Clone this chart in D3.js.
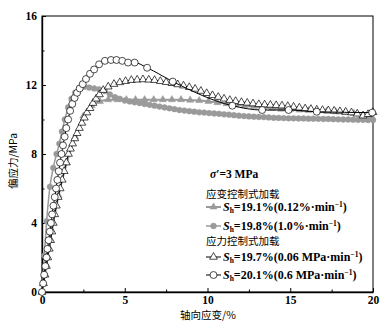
<!DOCTYPE html>
<html><head><meta charset="utf-8">
<script src="https://cdn.jsdelivr.net/npm/d3@7/dist/d3.min.js"></script>
<style>body{margin:0;background:#fff}</style>
</head><body><svg id="c" width="388" height="328"></svg>
<script>
// ---------- data ----------
const xTicks = [0, 5, 10, 15, 20];
const xMinor = [2.5, 7.5, 12.5, 17.5];
const yTicks = [0, 4, 8, 12, 16];
const yMinor = [2, 6, 10, 14];

// strain-controlled 0.12%/min (grey filled triangles)
const strainSlowX = [0,0.5,1.0,1.5,2.0,2.5,3.0,3.5,4.0,4.55,5.1,5.65,6.2,6.75,7.3,7.85,8.4,8.95,9.5,10.05,10.6,11.15,11.7,12.25,12.8,13.35,13.9,14.45,15.0,15.55,16.1,16.65,17.2,17.75,18.3,18.85,19.4,19.95];
const strainSlowY = [0,3.0,5.6,7.5,9.0,10.2,10.8,11.05,11.15,11.15,11.15,11.15,11.15,11.15,11.15,11.15,11.15,11.12,11.1,11.05,10.98,10.92,10.85,10.8,10.75,10.7,10.65,10.6,10.58,10.55,10.52,10.5,10.48,10.45,10.4,10.35,10.25,10.1];

// strain-controlled 1.0%/min (grey filled circles)
const strainFastX = [0,0.14,0.28,0.48,0.68,0.88,1.05,1.2,1.38,1.58,1.78,2.0,2.25,2.55,2.85,3.15,3.45,3.8,4.1,4.4,4.7,5.0,5.3,5.6,5.9,6.2,6.5,6.8,7.1,7.4,7.7,8.0,8.3,8.6,8.9,9.2,9.5,9.8,10.1,10.4,10.7,11.0,11.3,11.6,11.9,12.2,12.5,12.8,13.1,13.4,13.7,14.0,14.3,14.6,14.9,15.2,15.5,15.8,16.1,16.4,16.7,17.0,17.3,17.6,17.9,18.2,18.5,18.8,19.1,19.4,19.7,20.0];
const strainFastY = [0,2.1,4.1,6.1,7.2,8.0,8.6,9.3,10.0,10.7,11.2,11.55,11.8,11.9,11.85,11.8,11.75,11.65,11.45,11.3,11.2,11.1,11.05,11.0,10.95,10.9,10.85,10.8,10.75,10.7,10.65,10.6,10.55,10.52,10.48,10.45,10.42,10.4,10.37,10.35,10.33,10.3,10.28,10.25,10.22,10.2,10.18,10.16,10.15,10.14,10.12,10.1,10.09,10.08,10.07,10.07,10.06,10.06,10.05,10.05,10.04,10.03,10.03,10.02,10.01,10.0,10.0,9.99,9.98,9.98,9.97,9.97];

// stress-controlled 0.06 MPa/min (open triangles)
const stressSlowX = [0,0.09,0.18,0.27,0.35,0.44,0.52,0.6,0.68,0.77,0.87,0.98,1.1,1.22,1.34,1.47,1.6,1.72,1.85,1.98,2.12,2.26,2.41,2.56,2.72,2.9,3.08,3.27,3.47,3.7,4.0,4.35,4.7,5.05,5.4,5.75,6.1,6.45,6.8,7.15,7.5,7.85,8.2,8.55,8.9,9.25,9.6,9.95,10.3,10.65,11.0,11.35,11.7,12.05,12.4,12.75,13.1,13.45,13.8,14.15,14.5,14.85,15.2,15.55,15.9,16.25,16.6,16.95,17.3,17.65,18.0,18.35,18.7,19.05,19.4,19.7,20.0];
const stressSlowY = [0,0.5,1.0,1.5,2.0,2.5,3.0,3.5,4.0,4.5,5.0,5.5,6.0,6.5,7.0,7.5,8.0,8.3,8.6,8.9,9.2,9.5,9.8,10.1,10.4,10.65,10.95,11.2,11.45,11.7,11.9,12.05,12.15,12.22,12.28,12.3,12.32,12.3,12.28,12.22,12.16,12.1,12.03,11.96,11.87,11.77,11.65,11.52,11.4,11.3,11.2,11.12,11.06,11.0,10.96,10.92,10.88,10.86,10.84,10.82,10.8,10.77,10.73,10.68,10.63,10.6,10.56,10.54,10.52,10.5,10.47,10.44,10.4,10.33,10.22,10.3,10.42];

// stress-controlled 0.6 MPa/min (open circles)
const stressFastX = [0,0.07,0.13,0.2,0.27,0.33,0.4,0.47,0.54,0.61,0.69,0.77,0.85,0.93,1.01,1.09,1.18,1.27,1.37,1.47,1.58,1.7,1.83,1.97,2.12,2.28,2.46,2.66,2.9,3.15,3.45,3.8,4.17,4.5,4.85,5.2,5.6,6.35,7.9,11.5,13.3,14.9,16.6,19.95];
const stressFastY = [0,0.5,1.0,1.5,2.0,2.5,3.0,3.5,4.0,4.5,5.0,5.5,6.0,6.5,7.0,7.5,8.0,8.5,9.0,9.5,10.0,10.5,10.9,11.25,11.55,11.8,12.05,12.35,12.65,12.9,13.2,13.4,13.45,13.45,13.4,13.3,13.3,13.0,12.2,10.8,10.55,10.55,10.45,10.4];

const legendSh = ["19.1%", "19.8%", "19.7%", "20.1%"];
const legendRate = ["0.12%", "1.0%", "0.06 MPa", "0.6 MPa"];
const legendHeads = ["应变控制式加载", "应力控制式加载"];

// ---------- chart ----------
const svg = d3.select("#c");
const x = d3.scaleLinear().domain([0, 20]).range([42, 373]);
const y = d3.scaleLinear().domain([0, 16]).range([292, 16]);
const NUM = "'Liberation Serif','Times New Roman',serif";
const CJK = "'Noto Sans CJK SC','Noto Sans CJK JP',sans-serif";
const GREY = "#9a9a9a";

svg.append("rect").attr("width", 388).attr("height", 328).attr("fill", "#fff");

// frame
svg.append("rect").attr("x", x(0)).attr("y", y(16)).attr("width", x(20) - x(0)).attr("height", y(0) - y(16))
  .attr("fill", "none").attr("stroke", "#000").attr("stroke-width", 1);

function styleAxis(g) {
  g.selectAll("path.domain").attr("stroke", "#000").attr("stroke-width", 1.4);
  g.selectAll("line").attr("stroke", "#000").attr("stroke-width", 1);
  g.selectAll("text").attr("font-family", NUM).attr("font-weight", "bold").attr("font-size", 11.5).attr("fill", "#000");
}
const gx = svg.append("g").attr("transform", `translate(0,${y(0)})`)
  .call(d3.axisBottom(x).tickValues(xTicks).tickSize(-4).tickSizeOuter(0).tickPadding(4).tickFormat(d3.format("d")));
styleAxis(gx);
const gxm = svg.append("g").attr("transform", `translate(0,${y(0)})`)
  .call(d3.axisBottom(x).tickValues(xMinor).tickSize(-2.5).tickSizeOuter(0).tickFormat(""));
gxm.select("path.domain").remove(); styleAxis(gxm);
const gy = svg.append("g").attr("transform", `translate(${x(0)},0)`)
  .call(d3.axisLeft(y).tickValues(yTicks).tickSize(-4).tickSizeOuter(0).tickPadding(5).tickFormat(d3.format("d")));
styleAxis(gy);
const gym = svg.append("g").attr("transform", `translate(${x(0)},0)`)
  .call(d3.axisLeft(y).tickValues(yMinor).tickSize(-2.5).tickSizeOuter(0).tickFormat(""));
gym.select("path.domain").remove(); styleAxis(gym);

// axis titles
svg.append("text").attr("x", 208).attr("y", 319).attr("text-anchor", "middle")
  .attr("font-family", CJK).attr("font-size", 10.5).attr("fill", "#000").text("轴向应变/%");
svg.append("text").attr("transform", "translate(17,161) rotate(-90)").attr("text-anchor", "middle")
  .attr("font-family", CJK).attr("font-size", 10.5).attr("fill", "#000").text("偏应力/MPa");

// series
const series = [
  {xs: strainSlowX, ys: strainSlowY, line: GREY, lw: 2, sym: d3.symbolTriangle, size: 22, fill: GREY, stroke: GREY, sw: 0.5},
  {xs: strainFastX, ys: strainFastY, line: GREY, lw: 1.5, sym: d3.symbolCircle, size: 26, fill: GREY, stroke: GREY, sw: 0.5},
  {xs: stressSlowX, ys: stressSlowY, line: "#000", lw: 1, sym: d3.symbolTriangle, size: 26, fill: "#fff", stroke: "#000", sw: 0.7},
  {xs: stressFastX, ys: stressFastY, line: "#000", lw: 1, sym: d3.symbolCircle, size: 38, fill: "#fff", stroke: "#000", sw: 0.7}
];
const lineGen = d3.line().x(d => x(d[0])).y(d => y(d[1])).curve(d3.curveMonotoneX);
series.forEach(s => {
  const pts = s.xs.map((v, i) => [v, s.ys[i]]);
  svg.append("path").datum(pts).attr("d", lineGen).attr("fill", "none")
    .attr("stroke", s.line).attr("stroke-width", s.lw);
  svg.append("g").selectAll("path").data(pts).join("path")
    .attr("transform", d => `translate(${x(d[0])},${y(d[1])})`)
    .attr("d", d3.symbol(s.sym, s.size))
    .attr("fill", s.fill).attr("stroke", s.stroke).attr("stroke-width", s.sw);
});

// legend
const lg = svg.append("g");
const t0 = lg.append("text").attr("x", 210).attr("y", 178).attr("font-family", NUM).attr("font-weight", "bold")
  .attr("font-size", 11.5).attr("fill", "#000");
t0.append("tspan").attr("font-style", "italic").text("σ");
t0.append("tspan").text("′=3 MPa");
lg.append("text").attr("x", 206).attr("y", 198).attr("font-family", CJK).attr("font-size", 10.5).attr("fill", "#000").text(legendHeads[0]);
lg.append("text").attr("x", 206).attr("y", 245).attr("font-family", CJK).attr("font-size", 10.5).attr("fill", "#000").text(legendHeads[1]);
const rowY = [207, 226, 257, 275];
series.forEach((s, i) => {
  const yy = rowY[i];
  lg.append("line").attr("x1", 206).attr("x2", 221).attr("y1", yy).attr("y2", yy)
    .attr("stroke", s.line).attr("stroke-width", s.lw);
  lg.append("path").attr("transform", `translate(213.5,${yy})`).attr("d", d3.symbol(s.sym, s.size))
    .attr("fill", s.fill).attr("stroke", s.stroke).attr("stroke-width", s.sw);
  const t = lg.append("text").attr("x", 223).attr("y", yy + 4).attr("font-family", NUM).attr("font-weight", "bold")
    .attr("font-size", 12).attr("fill", "#000");
  t.append("tspan").attr("font-style", "italic").text("S");
  t.append("tspan").attr("font-size", 7.5).attr("dy", 2).text("h");
  t.append("tspan").attr("dy", -2).text("=" + legendSh[i] + "(" + legendRate[i] + "·min");
  t.append("tspan").attr("font-size", 7.5).attr("dy", -4.5).text("−1");
  t.append("tspan").attr("dy", 4.5).text(")");
});
</script></body></html>
